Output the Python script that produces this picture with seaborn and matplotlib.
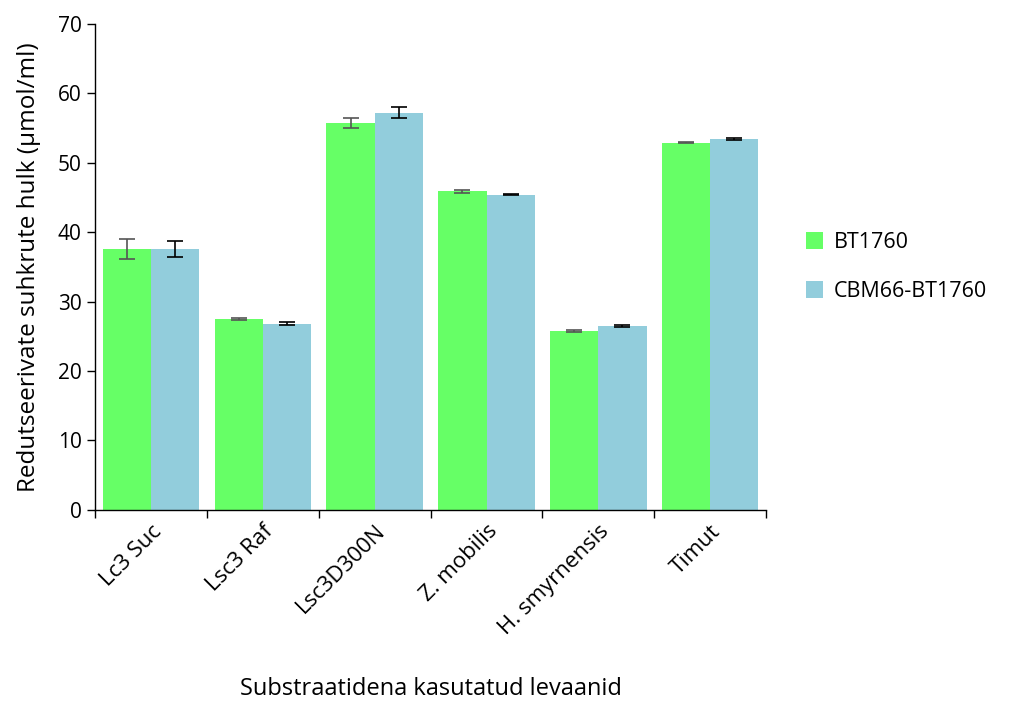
import pandas as pd
import matplotlib
matplotlib.use("Agg")
import matplotlib.pyplot as plt
import seaborn as sns

# data
substrates = ["Lc3 Suc", "Lsc3 Raf", "Lsc3D300N", "Z. mobilis", "H. smyrnensis", "Timut"]
bt1760 = [37.6, 27.5, 55.7, 45.9, 25.8, 52.9]
bt1760_err = [1.4, 0.15, 0.7, 0.2, 0.15, 0.1]
cbm66 = [37.6, 26.8, 57.2, 45.4, 26.5, 53.4]
cbm66_err = [1.1, 0.2, 0.8, 0.1, 0.15, 0.15]
series = ["BT1760", "CBM66-BT1760"]
colors = ["#66ff66", "#92cddc"]
err_colors = ["#555555", "#000000"]

df = pd.DataFrame({
    "substrate": substrates * 2,
    "value": bt1760 + cbm66,
    "err": bt1760_err + cbm66_err,
    "series": [series[0]] * 6 + [series[1]] * 6,
})

sns.set_style("white")
plt.rcParams["font.family"] = ["Open Sans", "DejaVu Sans"]
plt.rcParams["text.color"] = "black"
plt.rcParams["axes.labelcolor"] = "black"
plt.rcParams["xtick.color"] = "black"
plt.rcParams["ytick.color"] = "black"

fig = plt.figure(figsize=(10.3, 7.08), dpi=100)
ax = fig.add_axes([0.092, 0.28, 0.652, 0.686])

sns.barplot(data=df, x="substrate", y="value", hue="series", palette=colors,
            errorbar=None, width=0.86, saturation=1, linewidth=0, ax=ax)

# error bars on top of each bar
for i, name in enumerate(series):
    cont = ax.containers[i]
    sub = df[df["series"] == name]
    xs = [p.get_x() + p.get_width() / 2 for p in cont.patches]
    ax.errorbar(xs, sub["value"], yerr=sub["err"], fmt="none",
                ecolor=err_colors[i], elinewidth=1.2, capsize=6, capthick=1.2)

ax.set_ylim(0, 70)
ax.set_xlim(-0.5, 5.5)
ax.set_yticks(range(0, 71, 10))
ax.tick_params(axis="y", labelsize=15, direction="out", length=6, width=1, left=True)
ax.tick_params(axis="x", labelsize=16, direction="out", length=6, width=1, bottom=True)
plt.setp(ax.get_xticklabels(), rotation=45, ha="right", rotation_mode="anchor")
ax.set_xticks([i - 0.5 for i in range(7)], minor=True)
ax.tick_params(axis="x", which="major", length=0, pad=8)
ax.tick_params(axis="x", which="minor", length=6, width=1, bottom=True)

for s in ["top", "right"]:
    ax.spines[s].set_visible(False)
for s in ["left", "bottom"]:
    ax.spines[s].set_color("black")
    ax.spines[s].set_linewidth(1)

ax.set_ylabel("Redutseerivate suhkrute hulk (µmol/ml)", fontsize=17.5)
ax.yaxis.set_label_coords(-0.08, 0.5)
ax.set_xlabel("Substraatidena kasutatud levaanid", fontsize=17)
ax.xaxis.set_label_coords(0.5, -0.345)

ax.legend(title=None, frameon=False, fontsize=15.5, loc="center left",
          bbox_to_anchor=(1.03, 0.5), handlelength=0.8, handleheight=0.8,
          handletextpad=0.5, labelspacing=1.3)

fig.savefig("out.png", dpi=100)
